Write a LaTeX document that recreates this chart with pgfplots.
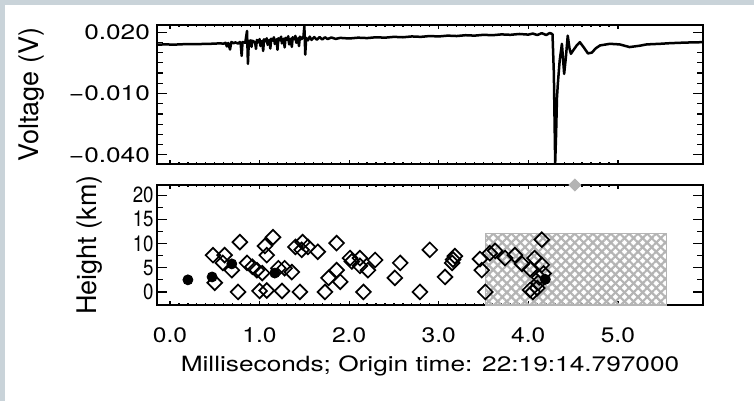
\documentclass[border=0pt]{standalone}
\usepackage{fontspec}
\setmainfont{TeX Gyre Heros}
\usepackage{graphicx}
\usepackage{pgfplots}
\pgfplotsset{compat=1.18}
\usetikzlibrary{patterns.meta}
\definecolor{band}{HTML}{C9D3D9}
\definecolor{hatch}{HTML}{B4B4B4}
\newcommand{\wx}[1]{\scalebox{1.25}[1]{#1}}
\newcommand{\wt}[1]{\scalebox{1.17}[1]{#1}}
\newcommand{\nh}[1]{{\fontsize{11}{12}\selectfont\scalebox{0.85}[1]{#1}}}

\pgfplotsset{
  idl/.style={
    scale only axis, width=273pt,
    xmin=-0.145, xmax=5.95,
    xtick={0,1,2,3,4,5}, minor x tick num=9,
    tick align=inside,
    major tick length=5pt, minor tick length=3pt,
    xtick style={/pgfplots/major tick length=2pt,/pgfplots/minor tick length=1pt},
    axis line style={line width=0.9pt},
    every tick/.style={black, line width=0.6pt},
    scaled y ticks=false,
    /pgf/number format/assume math mode=true,
    tick label style={font=\fontsize{10.5}{12}\selectfont},
    label style={font=\fontsize{13.5}{15}\selectfont},
  }
}

\begin{document}
\begin{tikzpicture}
\fill[white] (0,0) rectangle (377pt,-200.5pt);
\fill[band] (0,0) rectangle (377pt,-2.5pt);
\fill[band] (0,0) rectangle (2.5pt,-200.5pt);
\useasboundingbox (0,0) rectangle (377pt,-200.5pt);

% voltage trace
\begin{axis}[idl,
  at={(78.5pt,-12.5pt)}, anchor=north west, height=69.5pt,
  ymin=-0.0445, ymax=0.0235,
  xticklabels={,,,,,},
  ytick={-0.04,-0.01,0.02}, yticklabels={\wx{−0.040},\wx{−0.010},\wx{0.020}},
  minor ytick={-0.035,-0.03,-0.025,-0.02,-0.015,-0.005,0,0.005,0.01,0.015},
  ylabel={Voltage (V)},
  ylabel style={at={(axis description cs:-0.229,0.5)}, anchor=center},
]
\addplot[black, line width=1.25pt, line join=round] coordinates {
(-0.145,0.0139)(-0.05,0.0140)(0.05,0.0139)(0.15,0.0141)(0.25,0.0141)(0.35,0.0142)
(0.45,0.0143)(0.55,0.0145)(0.60,0.0144)(0.62,0.0148)(0.635,0.0130)(0.65,0.0147)
(0.67,0.0115)(0.685,0.0152)(0.71,0.0146)(0.73,0.0150)(0.76,0.0144)(0.78,0.0152)
(0.79,0.0140)(0.80,0.0084)(0.81,0.0152)(0.84,0.0148)(0.86,0.0206)(0.87,0.0045)
(0.88,0.0152)(0.90,0.0160)(0.91,0.0128)(0.92,0.0158)(0.95,0.0150)(0.96,0.0118)
(0.97,0.0162)(0.99,0.0150)(1.00,0.0166)(1.01,0.0132)(1.03,0.0158)(1.04,0.0108)
(1.05,0.0165)(1.07,0.0155)(1.08,0.0170)(1.09,0.0138)(1.11,0.0162)(1.12,0.0120)
(1.13,0.0168)(1.15,0.0158)(1.16,0.0175)(1.17,0.0142)(1.19,0.0165)(1.20,0.0114)
(1.21,0.0170)(1.23,0.0160)(1.24,0.0178)(1.25,0.0145)(1.27,0.0168)(1.28,0.0125)
(1.29,0.0172)(1.31,0.0162)(1.32,0.0180)(1.33,0.0140)(1.35,0.0168)(1.36,0.0128)
(1.37,0.0175)(1.39,0.0165)(1.40,0.0182)(1.41,0.0148)(1.43,0.0170)(1.44,0.0132)
(1.45,0.0178)(1.47,0.0166)(1.49,0.0180)(1.50,0.0230)(1.51,0.0090)(1.52,0.0172)
(1.54,0.0160)(1.56,0.0178)(1.58,0.0162)(1.61,0.0176)(1.64,0.0163)(1.67,0.0176)
(1.70,0.0164)(1.73,0.0175)(1.76,0.0166)(1.80,0.0174)(1.85,0.0167)(1.90,0.0172)
(2.00,0.0169)(2.10,0.0173)(2.20,0.0171)(2.30,0.0175)(2.40,0.0173)(2.50,0.0177)
(2.60,0.0175)(2.70,0.0179)(2.80,0.0177)(2.90,0.0181)(3.00,0.0179)(3.10,0.0183)
(3.20,0.0181)(3.30,0.0185)(3.40,0.0183)(3.50,0.0187)(3.60,0.0185)(3.70,0.0189)
(3.80,0.0187)(3.90,0.0191)(4.00,0.0188)(4.05,0.0193)(4.10,0.0186)(4.15,0.0195)
(4.20,0.0186)(4.24,0.0196)(4.27,0.0190)(4.285,0.0000)(4.30,-0.0440)(4.31,-0.0300)
(4.32,-0.0120)(4.33,-0.0050)(4.35,0.0060)(4.375,0.0143)(4.40,-0.0004)(4.42,0.0080)
(4.44,0.0183)(4.46,0.0120)(4.475,0.0094)(4.50,0.0110)(4.54,0.0135)(4.575,0.0151)
(4.62,0.0125)(4.665,0.0096)(4.71,0.0100)(4.75,0.0120)(4.80,0.0135)(4.91,0.0143)
(5.02,0.0140)(5.13,0.0127)(5.25,0.0134)(5.32,0.0140)(5.47,0.0143)(5.58,0.0146)
(5.75,0.0149)(5.95,0.0151)
};
\end{axis}

% source heights
\begin{axis}[idl,
  at={(78.5pt,-92.5pt)}, anchor=north west, height=60pt,
  ymin=-2.7, ymax=22.1, clip=false,
  ytick={0,5,10,15,20}, yticklabels={\nh{0},\nh{5},\nh{10},\nh{15},\nh{20}},
  minor y tick num=1,
  yticklabel style={inner sep=1.5pt},
  xticklabels={\wt{0.0},\wt{1.0},\wt{2.0},\wt{3.0},\wt{4.0},\wt{5.0}},
  xticklabel style={yshift=-8pt},
  xlabel={\scalebox{1.25}[1]{Milliseconds; Origin time: 22:19:14.797000}},
  xlabel style={at={(axis description cs:0.5,0)}, anchor=center, yshift=-30.5pt,
    font=\fontsize{10.5}{12}\selectfont},
  ylabel={Height (km)},
  ylabel style={at={(axis description cs:-0.1227,0.5)}, anchor=center},
]
\addplot[draw=hatch, line width=0.6pt,
  pattern={Lines[angle=45,distance=3.2pt,line width=1.1pt]}, pattern color=hatch,
  postaction={pattern={Lines[angle=-45,distance=3.2pt,line width=1.1pt]}, pattern color=hatch}]
  coordinates {(3.52,-2.7)(5.54,-2.7)(5.54,12.0)(3.52,12.0)} -- cycle;
\addplot[only marks, mark=*, mark size=2.5pt, black] coordinates {
(0.20,2.5)(0.47,3.1)(0.69,5.8)(1.17,3.9)(4.19,2.6)
};
\addplot[only marks, mark=square, mark size=2.6pt, black,
  mark options={rotate=45, line width=0.85pt}] coordinates {
(0.48,7.6)(0.61,7.6)(0.59,6.0)(0.69,4.5)(0.78,10.3)(0.50,1.9)(0.76,0)
(0.86,6.0)(0.92,5.2)(0.97,4.5)(1.03,3.9)(1.08,7.6)(1.06,9.5)(1.15,11.3)
(1.00,0.2)(1.08,0.3)(1.25,0.2)(1.21,4.9)(1.28,4.9)(1.36,4.1)(1.45,0)
(1.40,9.3)(1.48,10.3)(1.47,8.7)(1.54,9.3)(1.65,8.3)(1.86,10.1)(1.77,2.9)
(1.73,0)(1.86,4.5)(1.90,2.1)(2.01,7.0)(2.03,6.3)(2.12,7.0)(2.12,5.4)
(2.21,4.5)(2.16,0)(2.29,6.6)(2.51,2.9)(2.57,6.0)(2.79,0)(2.90,8.7)
(3.07,3.1)(3.15,6.0)(3.16,6.7)(3.18,7.4)(3.46,6.8)(3.48,4.5)(3.52,0)
(3.57,8.0)(3.63,8.5)(3.74,7.0)(3.85,7.6)(3.93,5.8)(4.02,4.7)(4.07,7.0)
(4.15,10.8)(4.15,5.6)(4.17,3.8)(4.12,3.0)(4.02,0.4)(4.05,0)(4.10,0.8)(4.11,1.9)
};
\addplot[only marks, mark=square*, mark size=2.1pt, color=hatch,
  mark options={rotate=45}] coordinates {(4.52,22.1)};
\end{axis}
\end{tikzpicture}
\end{document}
